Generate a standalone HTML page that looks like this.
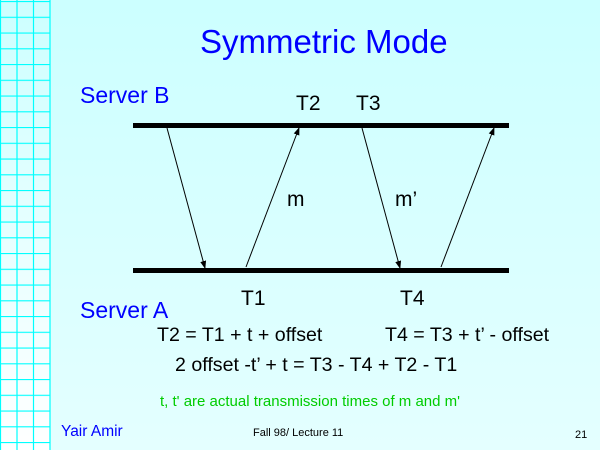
<!DOCTYPE html>
<html><head><style>
body{margin:0;width:600px;height:450px;overflow:hidden;position:relative;background:linear-gradient(#ccffff,#e4ffff);font-family:"Liberation Sans",sans-serif}
.t{position:absolute;white-space:nowrap}
</style></head><body>
<svg width="600" height="450" style="position:absolute;left:0;top:0">
<defs>
<linearGradient id="g" x1="0" y1="0" x2="0" y2="1"><stop offset="0" stop-color="#ccffff"/><stop offset="1" stop-color="#ffffff"/></linearGradient>
<pattern id="p" width="50" height="15.75" patternUnits="userSpaceOnUse" y="1"><line x1="0" y1="0.5" x2="50" y2="0.5" stroke="#00ffff" stroke-width="1.2"/></pattern>
<marker id="a" markerWidth="8" markerHeight="8" refX="7" refY="4" orient="auto" markerUnits="userSpaceOnUse"><path d="M0,1 L8,4 L0,7z" fill="#000"/></marker>
</defs>
<rect x="0" y="0" width="50" height="450" fill="url(#g)"/>
<rect x="0" y="0" width="50" height="450" fill="url(#p)"/>
<g stroke="#00ffff" stroke-width="1.2"><line x1="0.5" y1="0" x2="0.5" y2="450"/><line x1="17" y1="0" x2="17" y2="450"/><line x1="33.5" y1="0" x2="33.5" y2="450"/><line x1="50" y1="0" x2="50" y2="450"/></g>
<rect x="133" y="123" width="376" height="5" fill="#000"/>
<rect x="133" y="268" width="376" height="5" fill="#000"/>
<g stroke="#000" stroke-width="1" marker-end="url(#a)">
<line x1="167" y1="128" x2="205" y2="268"/>
<line x1="246" y1="267" x2="299" y2="128"/>
<line x1="362" y1="128" x2="400" y2="268"/>
<line x1="441" y1="267" x2="494" y2="128"/>
</g>
</svg>
<div class="t" style="left:200px;top:23px;font-size:33px;color:#0000ff">Symmetric Mode</div>
<div class="t" style="left:80px;top:82px;font-size:23px;color:#0000ff">Server B</div>
<div class="t" style="left:80px;top:297px;font-size:23px;color:#0000ff">Server A</div>
<div class="t" style="left:296px;top:92px;font-size:21px">T2</div>
<div class="t" style="left:356px;top:92px;font-size:21px">T3</div>
<div class="t" style="left:287px;top:188px;font-size:21px">m</div>
<div class="t" style="left:395px;top:188px;font-size:21px">m’</div>
<div class="t" style="left:241px;top:287px;font-size:21px">T1</div>
<div class="t" style="left:400px;top:287px;font-size:21px">T4</div>
<div class="t" style="left:157px;top:324px;font-size:19.6px">T2 = T1 + t + offset</div>
<div class="t" style="left:385px;top:324px;font-size:19.6px">T4 = T3 + t’ - offset</div>
<div class="t" style="left:175px;top:354px;font-size:19.6px">2 offset -t’ + t = T3 - T4 + T2 - T1</div>
<div class="t" style="left:160px;top:393px;font-size:15px;color:#00cc00">t, t' are actual transmission times of m and m'</div>
<div class="t" style="left:61px;top:423px;font-size:15.5px;color:#0000ff">Yair Amir</div>
<div class="t" style="left:253px;top:427px;font-size:11px">Fall 98/ Lecture 11</div>
<div class="t" style="left:575px;top:429px;font-size:11px">21</div>
</body></html>
